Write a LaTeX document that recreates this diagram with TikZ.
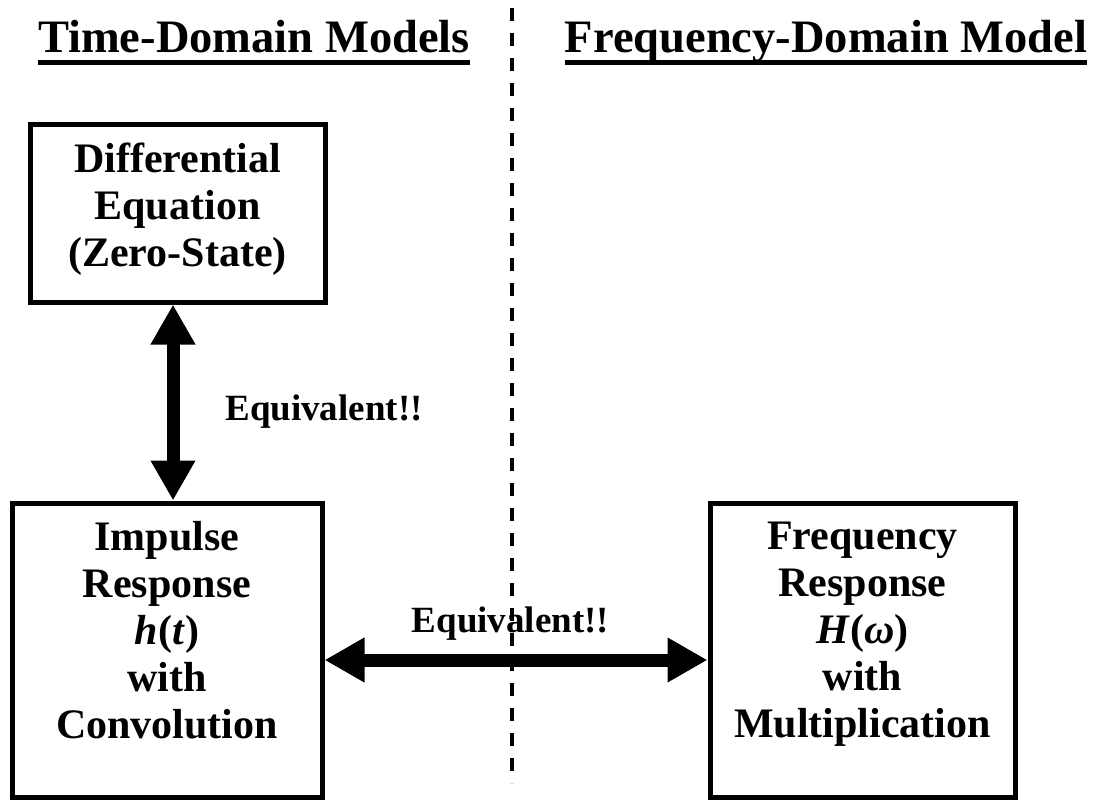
\documentclass[tikz,border=0pt]{standalone}
\usepackage{fontspec}
\setmainfont{Liberation Serif}
\usepackage{tikz}
\usetikzlibrary{arrows.meta,positioning,calc}
\definecolor{inkBlack}{RGB}{0, 0, 0}

\tikzset{
  modelbox/.style={draw=inkBlack, line width=5pt, inner sep=0pt},
  boxtext/.style={align=center, inner sep=0pt, anchor=north, text=inkBlack,
    font=\fontsize{42pt}{47pt}\selectfont\bfseries},
  heading/.style={inner sep=0pt, anchor=base, text=inkBlack,
    font=\fontsize{46.5pt}{50pt}\selectfont\bfseries},
  eqlabel/.style={inner sep=0pt, anchor=base, text=inkBlack,
    font=\fontsize{37pt}{40pt}\selectfont\bfseries},
  twoway/.style={{Triangle[width=42pt,length=40pt]}-{Triangle[width=42pt,length=40pt]},
    line width=13pt, draw=inkBlack},
  divider/.style={draw=inkBlack, line width=3.6pt, dash pattern=on 13pt off 12pt}
}

\begin{document}
\begin{tikzpicture}[x=1pt, y=-1pt]
\useasboundingbox (0,0) rectangle (1094,801);

% column headings, underlined
\node[heading] (timehead) at (254,52.5) {Time-Domain Models};
\node[heading] (freqhead) at (826,52.5) {Frequency-Domain Model};
\foreach \h in {timehead,freqhead}
  \draw[line width=4.5pt] ([yshift=-10pt]\h.base west) -- ([yshift=-10pt]\h.base east);

% divider between the two domains
\coordinate (divtop) at (512,8);
\coordinate (divbot) at (512,783);
\draw[divider] (divtop) -- (divbot);

% model boxes
\node[modelbox, minimum width=295pt, minimum height=178pt] (diffeq) at (177.5,213) {};
\node[modelbox, minimum width=310pt, minimum height=294pt] (impulse) at (167,650) {};
\node[modelbox, minimum width=305pt, minimum height=294pt] (freqresp) at (862.5,650) {};

\node[boxtext] (diffeqtxt) at ([yshift=-21pt]diffeq.north) {Differential\\Equation\\(Zero-State)};
\node[boxtext] (impulsetxt) at ([yshift=-21pt]impulse.north) {Impulse\\Response\\\textit{h}(\textit{t})\\with\\Convolution};
\node[boxtext] (freqresptxt) at ([yshift=-21pt]freqresp.north) {Frequency\\Response\\\textit{H}(\textit{ω})\\with\\Multiplication};

% equivalence arrows
\coordinate (vaxis) at (173,0);
\coordinate (haxis) at (0,660);
\draw[twoway] (diffeq.south -| vaxis) -- (impulse.north -| vaxis);
\draw[twoway] (impulse.east |- haxis) -- (freqresp.west |- haxis);

\node[eqlabel] (eqvert) at (324,420) {Equivalent!!};
\node[eqlabel] (eqhorz) at (510.5,632) {Equivalent!!};
\end{tikzpicture}
\end{document}
